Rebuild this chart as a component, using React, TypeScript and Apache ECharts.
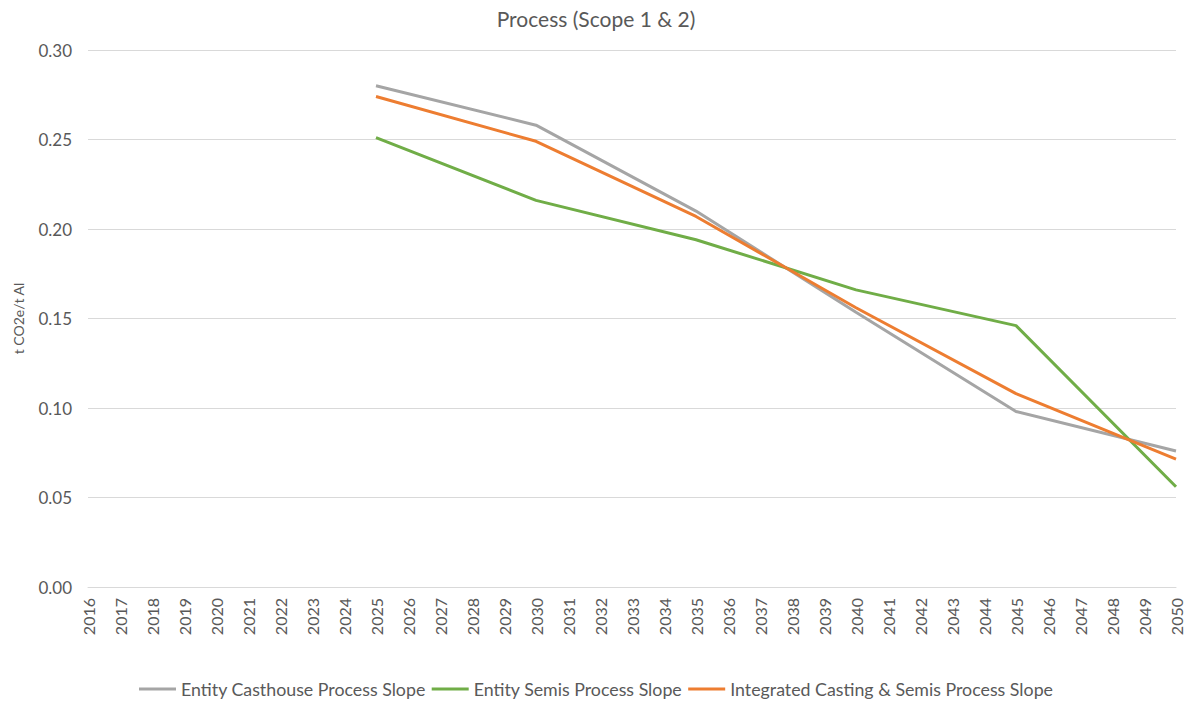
import React, { useEffect, useRef } from "react";
import * as echarts from "echarts";

const years: string[] = [];
for (let y = 2016; y <= 2050; y++) years.push(String(y));

const keyYears = ["2025", "2030", "2035", "2040", "2045", "2050"];
const casthouse = [0.280, 0.258, 0.210, 0.1535, 0.098, 0.076];
const semis = [0.251, 0.216, 0.194, 0.166, 0.146, 0.056];
const integrated = [0.274, 0.249, 0.207, 0.156, 0.108, 0.0715];

const seriesNames = [
  "Entity Casthouse Process Slope",
  "Entity Semis Process Slope",
  "Integrated Casting & Semis Process Slope",
];
const colors = ["#A5A5A5", "#70AD47", "#ED7D31"];

function toSeries(vals: number[]): (number | null)[] {
  return years.map((y) => {
    const i = keyYears.indexOf(y);
    return i >= 0 ? vals[i] : null;
  });
}

export default function App() {
  const ref = useRef<HTMLDivElement>(null);
  useEffect(() => {
    if (!ref.current) return;
    const chart = echarts.init(ref.current, undefined, { renderer: "svg" });
    const font = "Lato, 'Open Sans', sans-serif";
    const data = [casthouse, semis, integrated];
    chart.setOption({
      animation: false,
      backgroundColor: "#ffffff",
      title: {
        text: "Process (Scope 1 & 2)",
        left: "center",
        top: 3,
        textStyle: { fontFamily: font, fontSize: 21, fontWeight: "normal", color: "#595959" },
      },
      legend: {
        bottom: 1,
        left: "center",
        icon: "rect",
        itemWidth: 37,
        itemHeight: 3,
        itemGap: 6,
        textStyle: { fontFamily: font, fontSize: 17.8, color: "#595959" },
        data: seriesNames,
      },
      grid: { left: 88, right: 16, top: 50, bottom: 117, containLabel: false },
      xAxis: {
        type: "category",
        data: years,
        boundaryGap: false,
        axisLine: { show: true, lineStyle: { color: "#D9D9D9" } },
        axisTick: { show: false },
        axisLabel: {
          rotate: 90,
          interval: 0,
          margin: 11,
          fontFamily: font,
          fontSize: 16,
          color: "#595959",
        },
        splitLine: { show: false },
      },
      yAxis: {
        type: "value",
        min: 0,
        max: 0.3,
        interval: 0.05,
        name: "t CO2e/t Al",
        nameLocation: "middle",
        nameGap: 63,
        nameRotate: 90,
        nameTextStyle: { fontFamily: font, fontSize: 14, color: "#595959" },
        axisLine: { show: false },
        axisTick: { show: false },
        axisLabel: {
          formatter: (v: number) => v.toFixed(2),
          margin: 16,
          fontFamily: font,
          fontSize: 17,
          color: "#595959",
        },
        splitLine: { lineStyle: { color: "#D9D9D9", width: 1 } },
      },
      series: seriesNames.map((name, i) => ({
        name,
        type: "line",
        data: toSeries(data[i]),
        connectNulls: true,
        showSymbol: false,
        symbol: "none",
        color: colors[i],
        lineStyle: { color: colors[i], width: 3 },
        z: i === 2 ? 4 : 3,
      })),
    });
    return () => chart.dispose();
  }, []);
  return (
    <div
      ref={ref}
      style={{ position: "fixed", left: 0, top: 0, width: 1192, height: 704 }}
    />
  );
}
